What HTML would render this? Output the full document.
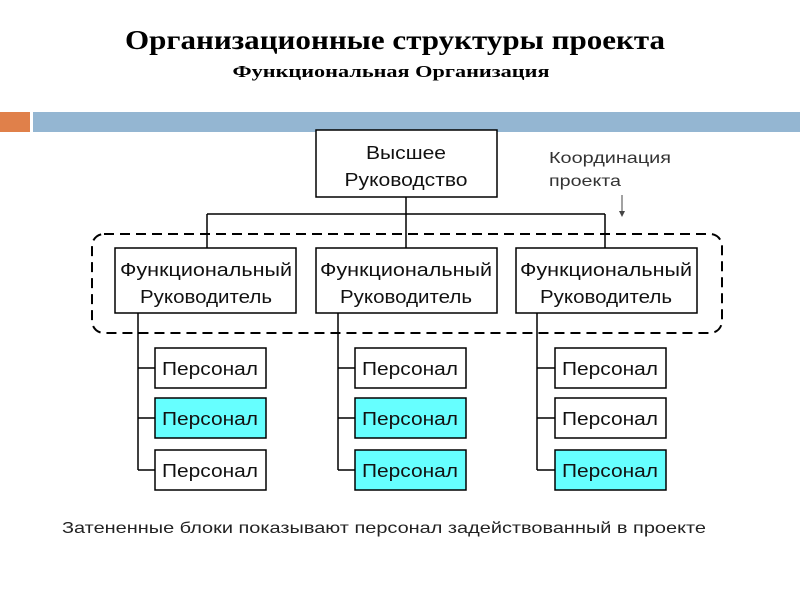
<!DOCTYPE html>
<html><head><meta charset="utf-8"><style>body{margin:0;background:#fff}svg{display:block}</style></head><body>
<svg width="800" height="600" xmlns="http://www.w3.org/2000/svg" font-family="Liberation Sans, sans-serif">
<text x="395" y="49" text-anchor="middle" font-family="Liberation Serif, serif" font-weight="bold" font-size="27" textLength="540" lengthAdjust="spacingAndGlyphs">Организационные структуры проекта</text>
<text x="391" y="77" text-anchor="middle" font-family="Liberation Serif, serif" font-weight="bold" font-size="17" textLength="317" lengthAdjust="spacingAndGlyphs">Функциональная Организация</text>
<rect x="0" y="112" width="30" height="20" fill="#e0804a"/>
<rect x="33" y="112" width="767" height="20" fill="#94b6d2"/>
<g stroke="#000" stroke-width="1.5" fill="none">
<line x1="406" y1="197" x2="406" y2="248"/>
<line x1="207" y1="214" x2="605" y2="214"/>
<line x1="207" y1="214" x2="207" y2="248"/>
<line x1="605" y1="214" x2="605" y2="248"/>
<line x1="138" y1="313" x2="138" y2="470"/><line x1="338" y1="313" x2="338" y2="470"/><line x1="537" y1="313" x2="537" y2="470"/>
<line x1="138" y1="368" x2="155" y2="368"/><line x1="138" y1="418" x2="155" y2="418"/><line x1="138" y1="470" x2="155" y2="470"/>
<line x1="338" y1="368" x2="355" y2="368"/><line x1="338" y1="418" x2="355" y2="418"/><line x1="338" y1="470" x2="355" y2="470"/>
<line x1="537" y1="368" x2="555" y2="368"/><line x1="537" y1="418" x2="555" y2="418"/><line x1="537" y1="470" x2="555" y2="470"/>
<rect x="92" y="234" width="630" height="99" rx="12" stroke-dasharray="10,6" stroke-width="2"/>
</g>
<line x1="622" y1="195" x2="622" y2="213" stroke="#444" stroke-width="1"/>
<path d="M619,211 L622,217 L625,211 Z" fill="#444"/>
<g stroke="#000" stroke-width="1.5" fill="#fff">
<rect x="316" y="130" width="181" height="67"/>
<rect x="115" y="248" width="181" height="65"/>
<rect x="316" y="248" width="181" height="65"/>
<rect x="516" y="248" width="181" height="65"/>
<rect x="155" y="348" width="111" height="40"/>
<rect x="155" y="398" width="111" height="40" fill="#66ffff"/>
<rect x="155" y="450" width="111" height="40"/>
<rect x="355" y="348" width="111" height="40"/>
<rect x="355" y="398" width="111" height="40" fill="#66ffff"/>
<rect x="355" y="450" width="111" height="40" fill="#66ffff"/>
<rect x="555" y="348" width="111" height="40"/>
<rect x="555" y="398" width="111" height="40"/>
<rect x="555" y="450" width="111" height="40" fill="#66ffff"/>
</g>
<g font-size="18" text-anchor="middle" fill="#111" lengthAdjust="spacingAndGlyphs">
<text x="406" y="159" textLength="80" lengthAdjust="spacingAndGlyphs">Высшее</text><text x="406" y="186" textLength="123" lengthAdjust="spacingAndGlyphs">Руководство</text>
<text x="206" y="276" textLength="172" lengthAdjust="spacingAndGlyphs">Функциональный</text><text x="206" y="303" textLength="132" lengthAdjust="spacingAndGlyphs">Руководитель</text>
<text x="406" y="276" textLength="172" lengthAdjust="spacingAndGlyphs">Функциональный</text><text x="406" y="303" textLength="132" lengthAdjust="spacingAndGlyphs">Руководитель</text>
<text x="606" y="276" textLength="172" lengthAdjust="spacingAndGlyphs">Функциональный</text><text x="606" y="303" textLength="132" lengthAdjust="spacingAndGlyphs">Руководитель</text>
<text x="210" y="375" textLength="96" lengthAdjust="spacingAndGlyphs">Персонал</text><text x="210" y="425" textLength="96" lengthAdjust="spacingAndGlyphs">Персонал</text><text x="210" y="477" textLength="96" lengthAdjust="spacingAndGlyphs">Персонал</text>
<text x="410" y="375" textLength="96" lengthAdjust="spacingAndGlyphs">Персонал</text><text x="410" y="425" textLength="96" lengthAdjust="spacingAndGlyphs">Персонал</text><text x="410" y="477" textLength="96" lengthAdjust="spacingAndGlyphs">Персонал</text>
<text x="610" y="375" textLength="96" lengthAdjust="spacingAndGlyphs">Персонал</text><text x="610" y="425" textLength="96" lengthAdjust="spacingAndGlyphs">Персонал</text><text x="610" y="477" textLength="96" lengthAdjust="spacingAndGlyphs">Персонал</text>
</g>
<text x="549" y="163" font-size="16" fill="#333" textLength="122" lengthAdjust="spacingAndGlyphs">Координация</text>
<text x="549" y="186" font-size="16" fill="#333" textLength="72" lengthAdjust="spacingAndGlyphs">проекта</text>
<text x="62" y="533" font-size="16" fill="#222" textLength="644" lengthAdjust="spacingAndGlyphs">Затененные блоки показывают персонал задействованный в проекте</text>
</svg>
</body></html>
